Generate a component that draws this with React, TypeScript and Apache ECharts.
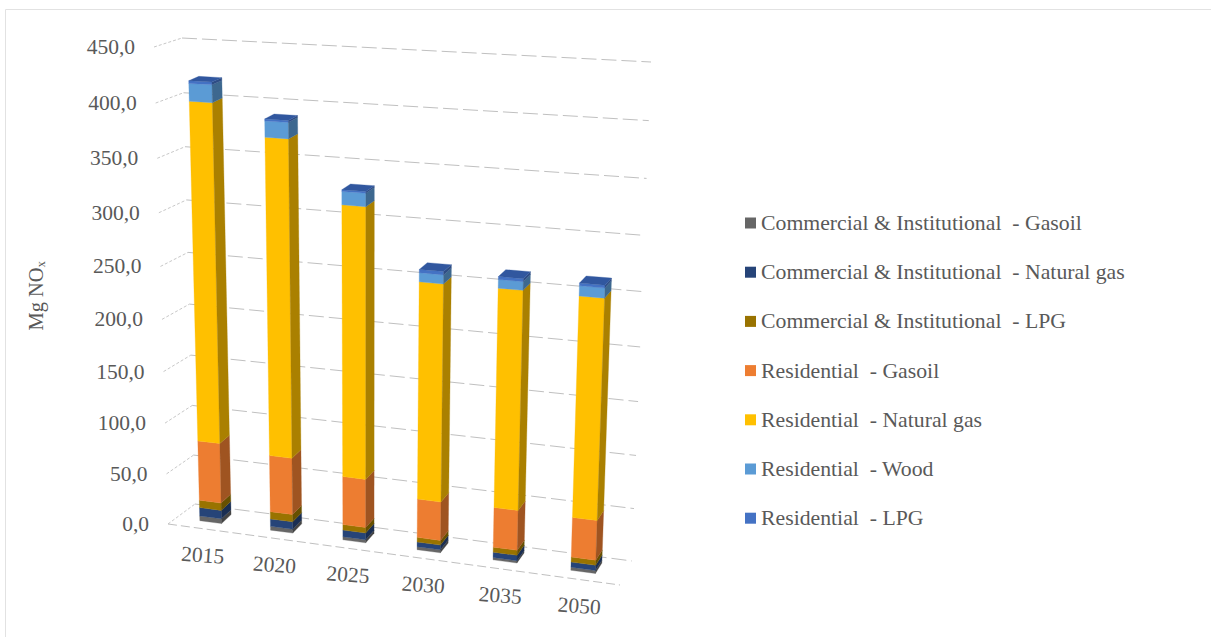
import React, { useEffect, useRef } from "react";
import * as echarts from "echarts";

const categories = ["2015", "2020", "2025", "2030", "2035", "2050"];
const yTicks = [0, 50, 100, 150, 200, 250, 300, 350, 400, 450];
const ciGasoil = [4.8, 3.8, 3.0, 2.9, 2.2, 2.9];
const ciNaturalGas = [8.4, 7.4, 6.6, 4.6, 5.2, 4.9];
const ciLpg = [7.4, 7.2, 5.4, 4.5, 4.8, 4.8];
const resGasoil = [59.0, 55.2, 46.8, 37.0, 37.8, 37.3];
const resNaturalGas = [320.4, 298.3, 254.2, 203.0, 202.6, 202.1];
const resWood = [16.0, 14.6, 12.0, 8.2, 7.8, 9.0];
const resLpg = [2.5, 1.9, 1.6, 3.1, 2.6, 2.4];

const stackDefs: [string, number[], string, string][] = [
  ["Commercial & Institutional  - Gasoil", ciGasoil, "#666666", "#444444"],
  ["Commercial & Institutional  - Natural gas", ciNaturalGas, "#264478", "#1A2E52"],
  ["Commercial & Institutional  - LPG", ciLpg, "#997300", "#675000"],
  ["Residential  - Gasoil", resGasoil, "#ED7D31", "#9F5421"],
  ["Residential  - Natural gas", resNaturalGas, "#FFC000", "#AA8000"],
  ["Residential  - Wood", resWood, "#5B9BD5", "#3D688F"],
  ["Residential  - LPG", resLpg, "#4472C4", "#2E4D85"],
];
const topFaceColor = "#31579F";

const FONT = '"Liberation Serif", "Times New Roman", serif';
const TEXT = "#595959";
const FS = 21.5;

// Box of the 3D chart on screen: front/back, left/right, floor/ceiling
const FLOOR = { fl: [168, 524], fr: [620, 585], br: [632, 561], bl: [195, 504] };
const CEIL = { fl: [154, 47], fr: [639, 73], br: [651, 62], bl: [182, 38] };
const GRID = { left: 100, top: 40, width: 600, height: 500 };
const X_PERSP = 1.075;
const V_PERSP = 1.065;
const D_FRONT = 0.32;
const D_BACK = 0.76;
const BAR_SHIFT = -0.002;

const warpX = (f: number) => f / (f + X_PERSP * (1 - f));
const warpV = (v: number) => v / (v + V_PERSP * (1 - v));
const lerp = (p: number[], q: number[], t: number) => [p[0] + (q[0] - p[0]) * t, p[1] + (q[1] - p[1]) * t];
function plane(c: typeof FLOOR, a: number, d: number) {
  return lerp(lerp(c.fl, c.fr, a), lerp(c.bl, c.br, a), d);
}
function proj(fx: number, v: number, d: number) {
  const a = warpX(fx);
  return lerp(plane(FLOOR, a, d), plane(CEIL, a, d), warpV(v));
}
// the bars' depth runs a little less sideways than the walls at the left, a little more at the right
function projBack(fx: number, v: number) {
  const p = proj(fx, v, D_BACK);
  const a = warpX(fx);
  return [p[0] - 2 + 3 * a, p[1]];
}
const fracX = (px: number) => (px - GRID.left) / GRID.width;
const fracV = (py: number) => (GRID.top + GRID.height - py) / GRID.height;

function poly(points: number[][], fill: string) {
  return { type: "polygon", shape: { points }, style: { fill, stroke: fill, lineWidth: 0.3 } };
}

function barRenderer(front: string, side: string, isTop: boolean) {
  return (_p: any, api: any) => {
    const p0 = api.coord([api.value(0), api.value(1)]);
    const p1 = api.coord([api.value(0), api.value(2)]);
    const half = (api.size([1, 0])[0] * 0.155) / GRID.width;
    const c = fracX(p0[0]) + BAR_SHIFT;
    const l = c - half;
    const r = c + half;
    const v0 = fracV(p0[1]);
    const v1 = fracV(p1[1]);
    const children: any[] = [
      poly([proj(l, v0, D_FRONT), proj(r, v0, D_FRONT), proj(r, v1, D_FRONT), proj(l, v1, D_FRONT)], front),
      poly([proj(r, v0, D_FRONT), projBack(r, v0), projBack(r, v1), proj(r, v1, D_FRONT)], side),
    ];
    if (isTop) {
      children.push(poly([proj(l, v1, D_FRONT), proj(r, v1, D_FRONT), projBack(r, v1), projBack(l, v1)], topFaceColor));
    }
    return { type: "group", children };
  };
}

const wallRender = (_p: any, api: any) => {
  const p = api.coord([0, api.value(0)]);
  const v = fracV(p[1]);
  const fl = proj(0, v, 0);
  const bl = proj(0, v, 1);
  const br = proj(1, v, 1);
  const children: any[] = [
    { type: "line", shape: { x1: fl[0], y1: fl[1], x2: bl[0], y2: bl[1] }, style: { stroke: "#c8c8c8", lineWidth: 1, lineDash: [3, 2] } },
    { type: "line", shape: { x1: bl[0], y1: bl[1], x2: br[0], y2: br[1] }, style: { stroke: "#c0c0c0", lineWidth: 1, lineDash: [15, 5] } },
    {
      type: "text",
      x: fl[0] - 19,
      y: fl[1],
      style: { text: api.value(0).toFixed(1).replace(".", ","), align: "right", verticalAlign: "middle", font: `${FS}px ${FONT}`, fill: TEXT },
    },
  ];
  if (api.value(0) === 0) {
    const fr = proj(1, v, 0);
    children.push({ type: "line", shape: { x1: fl[0], y1: fl[1], x2: fr[0], y2: fr[1] }, style: { stroke: "#c0c0c0", lineWidth: 1, lineDash: [9, 4] } });
  }
  return { type: "group", children };
};

const catLabelRender = (_p: any, api: any) => {
  const i = api.value(0);
  const p = api.coord([i, 0]);
  const q = proj(fracX(p[0]), 0, 0);
  return {
    type: "text",
    x: q[0] - 0.5,
    y: q[1] + 26.5,
    rotation: (-4 * Math.PI) / 180,
    style: { text: categories[i], align: "center", verticalAlign: "middle", font: `${FS}px ${FONT}`, fill: TEXT },
  };
};

export default function App() {
  const ref = useRef<HTMLDivElement>(null);
  useEffect(() => {
    const chart = echarts.init(ref.current!, undefined, { renderer: "svg" });
    const base = categories.map(() => 0);
    const barSeries = stackDefs.map(([name, values, front, side], k) => {
      const data = values.map((val, i) => {
        const row = [i, base[i], base[i] + val];
        base[i] += val;
        return row;
      });
      return {
        type: "custom",
        name,
        silent: true,
        z: 3,
        itemStyle: { color: front },
        encode: { x: 0, y: [1, 2] },
        renderItem: barRenderer(front, side, k === stackDefs.length - 1),
        data,
      };
    });
    chart.setOption({
      animation: false,
      backgroundColor: "#ffffff",
      grid: { ...GRID, containLabel: false },
      xAxis: { type: "category", data: categories, show: false },
      yAxis: { type: "value", min: 0, max: 450, interval: 50, show: false },
      legend: {
        orient: "vertical",
        left: 740,
        top: 206,
        itemWidth: 11,
        itemHeight: 11,
        itemGap: 25.2,
        icon: "rect",
        selectedMode: false,
        data: stackDefs.map((s) => s[0]),
        textStyle: { fontFamily: FONT, fontSize: 21.75, color: TEXT, lineHeight: 24 },
      },
      graphic: [
        { type: "polyline", silent: true, shape: { points: [[5.5, 637], [5.5, 9.5], [1211, 9.5]] }, style: { stroke: "#e2e2e2", lineWidth: 1, fill: "none" } },
        { type: "text", x: 36, y: 296, rotation: Math.PI / 2, style: { text: "Mg NOₓ", align: "center", verticalAlign: "middle", font: `20.5px ${FONT}`, fill: TEXT } },
      ],
      series: [
        { type: "custom", silent: true, z: 1, encode: { y: 0 }, renderItem: wallRender, data: yTicks.map((v) => [v]) },
        { type: "custom", silent: true, z: 1, encode: { x: 0 }, renderItem: catLabelRender, data: categories.map((_c, i) => [i]) },
        ...barSeries,
      ],
    });
    return () => chart.dispose();
  }, []);
  return <div ref={ref} style={{ position: "absolute", left: 0, top: 0, width: 1211, height: 637 }} />;
}
